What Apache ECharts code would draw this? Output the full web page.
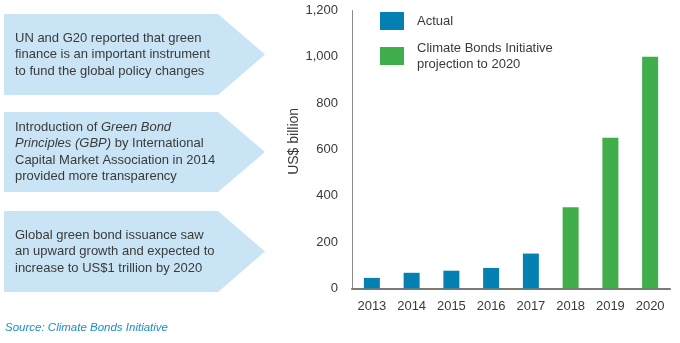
<!DOCTYPE html>
<html><head><meta charset="utf-8">
<script src="https://cdn.jsdelivr.net/npm/echarts@6/dist/echarts.min.js"></script>
<style>html,body{margin:0;padding:0;background:#fff}#c{width:680px;height:343px}</style>
</head><body><div id="c"></div>
<script>
const years = ['2013','2014','2015','2016','2017','2018','2019','2020'];
const actual = [45, 67, 76, 88, 150, '-', '-', '-'];
const projection = ['-', '-', '-', '-', '-', 350, 650, 1000];
const yTicks = [0, 200, 400, 600, 800, 1000, 1200];
const seriesNames = ['Actual', 'Climate Bonds Initiative\nprojection to 2020'];

const sans = "'Liberation Sans',Arial,sans-serif";
const txt = '#3a3a3a';
const boxFill = '#c9e4f5';

function arrow(top, h) {
  return {
    type: 'polygon',
    shape: { points: [[4, top], [218, top], [265, top + h / 2], [218, top + h], [4, top + h]] },
    style: { fill: boxFill }
  };
}
function boxText(top, h, text, rich) {
  return {
    type: 'text', x: 15, y: top + h / 2,
    style: {
      text: text, font: '13px ' + sans, fill: txt, lineHeight: 16.5,
      verticalAlign: 'middle', align: 'left', rich: rich || {}
    }
  };
}

const chart = echarts.init(document.getElementById('c'), null, { renderer: 'canvas' });
chart.setOption({
  animation: false,
  grid: { left: 352, right: 10, top: 10.5, bottom: 54.7 },
  legend: [
    {
      data: [seriesNames[0]], left: 380, top: 12, orient: 'vertical', padding: 0,
      icon: 'rect', itemWidth: 24, itemHeight: 18,
      textStyle: { fontFamily: sans, fontSize: 13, color: txt, padding: [0, 0, 0, 8] }
    },
    {
      data: [seriesNames[1]], left: 380, top: 33, orient: 'vertical', padding: 0,
      icon: 'rect', itemWidth: 24, itemHeight: 18,
      textStyle: { fontFamily: sans, fontSize: 13, color: txt, lineHeight: 16, padding: [14, 0, 0, 8] }
    }
  ],
  xAxis: {
    type: 'category', data: years,
    axisLine: { lineStyle: { color: '#7a7a7a', width: 2 } },
    axisTick: { show: false },
    axisLabel: { fontFamily: sans, fontSize: 13, color: txt, margin: 12 }
  },
  yAxis: {
    type: 'value', min: 0, max: 1200, interval: 200,
    name: 'US$ billion', nameLocation: 'middle', nameGap: 51, nameRotate: 90,
    nameTextStyle: { fontFamily: sans, fontSize: 14, color: txt, padding: [0, 0, 0, 16] },
    axisLine: { show: true, lineStyle: { color: '#8a8a8a', width: 1 } },
    axisTick: { show: false },
    splitLine: { show: false },
    axisLabel: {
      fontFamily: sans, fontSize: 13, color: txt, margin: 14,
      formatter: v => yTicks.includes(v) ? v.toLocaleString('en-US') : ''
    }
  },
  series: [
    { name: seriesNames[0], type: 'bar', stack: 's', data: actual, barWidth: 16, itemStyle: { color: '#0580b2' } },
    { name: seriesNames[1], type: 'bar', stack: 's', data: projection, barWidth: 16, itemStyle: { color: '#40ae4b' } }
  ],
  graphic: [
    arrow(14, 81),
    arrow(112, 80),
    arrow(211, 81),
    boxText(14, 81, 'UN and G20 reported that green\nfinance is an important instrument\nto fund the global policy changes'),
    boxText(112, 80, 'Introduction of {i|Green Bond}\n{i|Principles (GBP)} by International\nCapital Market Association in 2014\nprovided more transparency',
      { i: { fontStyle: 'italic', fontFamily: sans, fontSize: 13, fill: txt, lineHeight: 16.5 } }),
    boxText(211, 81, 'Global green bond issuance saw\nan upward growth and expected to\nincrease to US$1 trillion by 2020'),
    {
      type: 'text', x: 5, y: 328,
      style: { text: 'Source: Climate Bonds Initiative', font: 'italic 11.5px ' + sans, fill: '#1b8fc6', verticalAlign: 'middle' }
    }
  ]
});
</script></body></html>
